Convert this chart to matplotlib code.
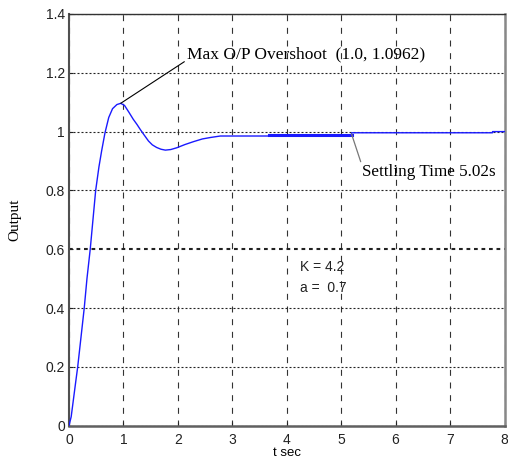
import numpy as np
import matplotlib
matplotlib.use("Agg")
import matplotlib.pyplot as plt

# Step response samples (time in seconds, output)
t_sec = [0.00, 0.04, 0.08, 0.12, 0.16, 0.22, 0.28, 0.33, 0.39, 0.44, 0.49,
         0.55, 0.60, 0.66, 0.73, 0.80, 0.88, 0.95, 1.02, 1.10, 1.18, 1.25,
         1.31, 1.39, 1.46, 1.53, 1.61, 1.69, 1.77, 1.87, 1.98, 2.13, 2.29,
         2.45, 2.60, 2.78, 3.67, 3.67, 5.19, 5.19, 7.78, 7.78, 8.00]
output = [0.000, 0.030, 0.087, 0.144, 0.200, 0.300, 0.400, 0.500, 0.600,
          0.700, 0.800, 0.880, 0.935, 0.995, 1.048, 1.078, 1.092, 1.0962,
          1.089, 1.066, 1.042, 1.024, 1.007, 0.986, 0.968, 0.955, 0.946,
          0.940, 0.937, 0.939, 0.945, 0.956, 0.966, 0.975, 0.980, 0.985,
          0.985, 0.988, 0.988, 0.996, 0.996, 1.000, 1.000]

# Heavier stretch of the trace (sample index range)
bold_start, bold_end = 37, 38

settling_time = 5.19
settling_value = 0.992

x_ticks = [0, 1, 2, 3, 4, 5, 6, 7, 8]
y_ticks = [0, 0.2, 0.4, 0.6, 0.8, 1.0, 1.2, 1.4]
y_tick_labels = ["0", "0.2", "0.4", "0.6", "0.8", "1", "1.2", "1.4"]

W, H = 508, 467
fig = plt.figure(figsize=(W / 100, H / 100), dpi=100)
ax = fig.add_axes([69 / W, 1 - 425.6 / H, (504.5 - 69) / W, (425.6 - 14) / H])

ax.plot(t_sec, output, color="#1a1aff", lw=1.0, zorder=3)
ax.plot(t_sec[bold_start:bold_end + 1], output[bold_start:bold_end + 1],
        color="#1a1aff", lw=2.2, zorder=3)

ax.set_xlim(0, 8)
ax.set_ylim(0, 1.4)
ax.set_xticks(x_ticks)
ax.set_yticks(y_ticks)
ax.set_yticklabels(y_tick_labels)

sans = ["Liberation Sans", "DejaVu Sans"]
serif = ["Liberation Serif", "DejaVu Serif"]

ax.tick_params(axis="both", direction="in", length=3, width=0.8,
               labelsize=10, colors="#222222")
ax.tick_params(axis="x", pad=5)
ax.tick_params(axis="y", pad=3)
for lab in ax.get_xticklabels() + ax.get_yticklabels():
    lab.set_family(sans)

# MATLAB-style grid
ax.xaxis.grid(True, color="#333333", lw=0.8, linestyle=(0, (5.4, 6.0)))
ax.yaxis.grid(True, color="#222222", lw=0.8, linestyle=(0, (1.8, 1.8)))
ax.set_axisbelow(True)
for val, gl in zip(y_ticks, ax.get_ygridlines()):
    if abs(val - 0.6) < 1e-9:
        gl.set_linewidth(1.5)

ax.spines["top"].set_color("#333333")
ax.spines["top"].set_linewidth(1.0)
ax.spines["right"].set_color("#888888")
ax.spines["right"].set_linewidth(1.8)
ax.spines["left"].set_color("#505050")
ax.spines["left"].set_linewidth(1.5)
ax.spines["bottom"].set_color("#606060")
ax.spines["bottom"].set_linewidth(1.8)

ax.set_xlabel("t sec", family=sans, fontsize=9.5, labelpad=0)
ax.set_ylabel("Output", family=serif, fontsize=11, labelpad=17)

ipk = int(np.argmax(output))
ax.annotate("Max O/P Overshoot  (1.0, 1.0962)",
            xy=(t_sec[ipk], output[ipk]), xytext=(2.17, 1.263),
            family=serif, fontsize=12.5, va="center", ha="left",
            arrowprops=dict(arrowstyle="-", color="black", lw=0.8,
                            shrinkA=0, shrinkB=0, relpos=(0, 0.15)))

ax.annotate("Settling Time 5.02s",
            xy=(settling_time, settling_value), xytext=(5.38, 0.861),
            family=serif, fontsize=12.3, va="center", ha="left",
            arrowprops=dict(arrowstyle="-", color="#777777", lw=0.9,
                            shrinkA=0, shrinkB=0, relpos=(0, 0.95)))

ax.text(4.24, 0.540, "K = 4.2", family=sans, fontsize=10, va="center",
        color="#222222")
ax.text(4.25, 0.469, "a =  0.7", family=sans, fontsize=10, va="center",
        color="#222222")

fig.savefig("out.png", dpi=100)
